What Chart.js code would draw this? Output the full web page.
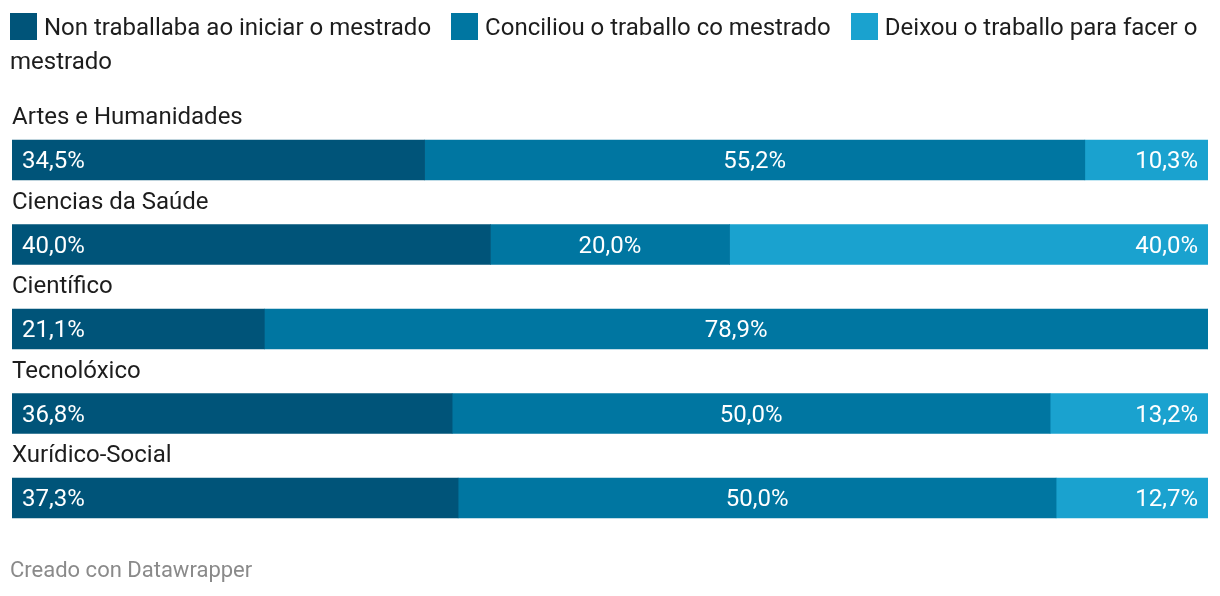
<!DOCTYPE html>
<html><head><meta charset="utf-8">
<script src="https://cdn.jsdelivr.net/npm/chart.js@4/dist/chart.umd.min.js"></script>
<style>
html,body{margin:0;padding:0;background:#fff;width:1220px;height:596px;overflow:hidden;font-family:Roboto,sans-serif;}
#legend{position:absolute;left:10px;top:10px;width:1205px;font-size:24px;line-height:34px;color:#1d1d1d;}
#legend .sw{display:inline-block;width:27px;height:27px;vertical-align:-5px;margin-right:7px;}
#footer{position:absolute;left:10px;top:557px;font-size:22px;color:#8a8a8a;}
#wrap{position:absolute;left:0;top:0;width:1220px;height:596px;}
</style></head><body>
<div id="wrap"><canvas id="c" width="1220" height="596"></canvas></div>
<div id="legend"></div>
<div id="footer">Creado con Datawrapper</div>
<script>
const categories = ["Artes e Humanidades","Ciencias da Saúde","Científico","Tecnolóxico","Xurídico-Social"];
const seriesNames = ["Non traballaba ao iniciar o mestrado","Conciliou o traballo co mestrado","Deixou o traballo para facer o mestrado"];
const nonTraballaba = [34.5, 40.0, 21.1, 36.8, 37.3];
const conciliou = [55.2, 20.0, 78.9, 50.0, 50.0];
const deixou = [10.3, 40.0, 0, 13.2, 12.7];
const colors = ["#005479","#0076a1","#1aa2cf"];

const leg = document.getElementById('legend');
leg.innerHTML = seriesNames.map((n,i)=>'<span class="sw" style="background:'+colors[i]+'"></span>'+n).join('<span style="display:inline-block;width:20px"></span>');

const fmt = v => v.toFixed(1).replace('.', ',') + '%';

const labelPlugin = {
  id:'labels',
  afterDatasetsDraw(chart){
    const ctx = chart.ctx;
    ctx.save();
    const n = chart.data.datasets.length;
    const meta0 = chart.getDatasetMeta(0);
    ctx.font = '24px Roboto';
    ctx.fillStyle = '#1d1d1d';
    ctx.textAlign = 'left';
    ctx.textBaseline = 'alphabetic';
    meta0.data.forEach((bar,i)=>{
      ctx.fillText(chart.data.labels[i], chart.chartArea.left, bar.y - 20 - 16);
    });
    ctx.fillStyle = '#ffffff';
    chart.data.datasets.forEach((ds,di)=>{
      const meta = chart.getDatasetMeta(di);
      meta.data.forEach((bar,i)=>{
        const v = ds.data[i];
        if(!v) return;
        const left = Math.min(bar.base, bar.x), right = Math.max(bar.base, bar.x);
        let x, align;
        if(di===0){ x = left + 10; align='left'; }
        else if(di===n-1){ x = right - 10; align='right'; }
        else { x = (left+right)/2; align='center'; }
        ctx.textAlign = align;
        ctx.fillText(fmt(v), x, bar.y + 8);
      });
    });
    ctx.restore();
  }
};

new Chart(document.getElementById('c'), {
  type:'bar',
  data:{
    labels: categories,
    datasets:[
      {label:seriesNames[0], data:nonTraballaba, backgroundColor:colors[0]},
      {label:seriesNames[1], data:conciliou, backgroundColor:colors[1]},
      {label:seriesNames[2], data:deixou, backgroundColor:colors[2]}
    ]
  },
  options:{
    indexAxis:'y',
    responsive:false,
    animation:false,
    devicePixelRatio:1,
    layout:{padding:{left:12,right:12,top:117.75,bottom:55.75}},
    datasets:{bar:{barThickness:40,borderWidth:0,borderSkipped:false}},
    scales:{
      x:{stacked:true,min:0,max:100,display:false},
      y:{stacked:true,display:false}
    },
    plugins:{legend:{display:false},tooltip:{enabled:false}}
  },
  plugins:[labelPlugin]
});
</script>
</body></html>
